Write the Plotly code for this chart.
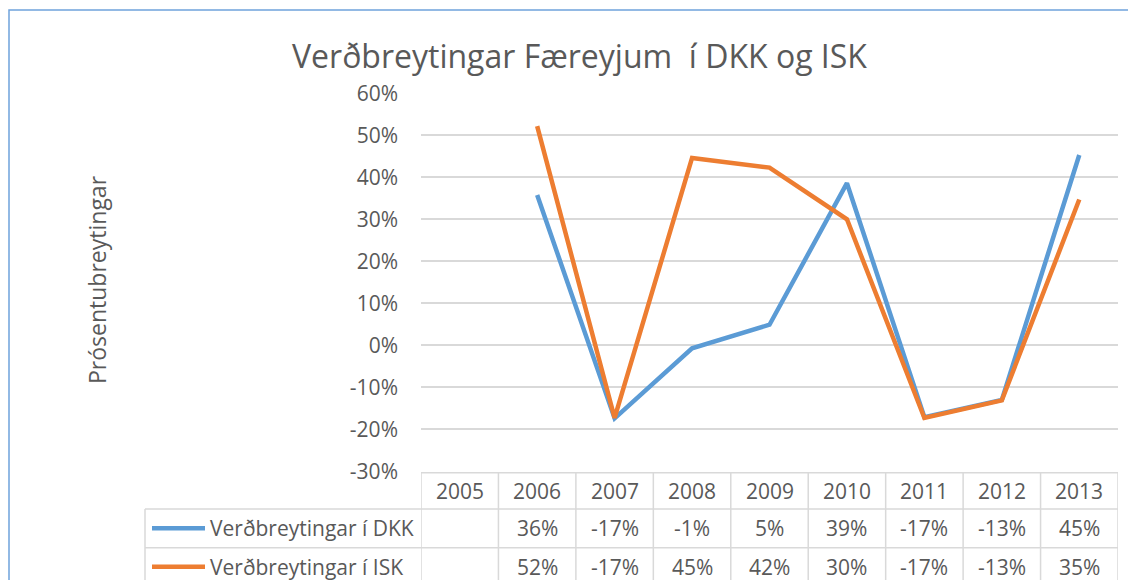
import plotly.graph_objects as go

# ---- data ----
years = ["2005", "2006", "2007", "2008", "2009", "2010", "2011", "2012", "2013"]
dkk = [None, 0.358, -0.174, -0.007, 0.049, 0.386, -0.171, -0.130, 0.453]
isk = [None, 0.522, -0.173, 0.446, 0.423, 0.300, -0.173, -0.131, 0.347]
series_names = ["Verðbreytingar í DKK", "Verðbreytingar í ISK"]
series_colors = ["#5B9BD5", "#ED7D31"]
tick_vals = [-0.3, -0.2, -0.1, 0.0, 0.1, 0.2, 0.3, 0.4, 0.5, 0.6]
tick_text = ["-30%", "-20%", "-10%", "0%", "10%", "20%", "30%", "40%", "50%", "60%"]
title = "Verðbreytingar Færeyjum  í DKK og ISK"
y_title = "Prósentubreytingar"

# ---- layout constants (pixels, reference coords; page body adds 8px offset) ----
W, H = 1136, 580
OFF = 8
FONT = "Open Sans"
TXT = "#595959"
GRID = "#D9D9D9"
px = lambda x: (x - OFF) / W
py = lambda y: 1 - (y - OFF) / H

plot_x0, plot_x1 = 421, 1118
plot_top, plot_bot = 93.3, 471.3
row_edges = [472.7, 509, 547.7, 586]
legend_x0 = 145

fig = go.Figure()
for name, vals, col in zip(series_names, [dkk, isk], series_colors):
    fig.add_trace(go.Scatter(x=years, y=vals, mode="lines", name=name,
                             line=dict(color=col, width=4.5), showlegend=False,
                             connectgaps=False, hoverinfo="skip"))

shapes = []
# chart outer border
shapes.append(dict(type="rect", xref="paper", yref="paper", x0=px(9), x1=px(1160),
                   y0=py(10), y1=py(620), line=dict(color="#6FA3DC", width=1.5),
                   fillcolor="rgba(0,0,0,0)", layer="above"))
# table vertical lines (category boundaries)
for i in range(len(years) + 1):
    shapes.append(dict(type="line", xref="x", yref="paper", x0=i - 0.5, x1=i - 0.5,
                       y0=py(row_edges[0]), y1=py(620), line=dict(color=GRID, width=1.5)))
# legend column left border
shapes.append(dict(type="line", xref="paper", yref="paper", x0=px(legend_x0), x1=px(legend_x0),
                   y0=py(row_edges[1]), y1=py(620), line=dict(color=GRID, width=1.5)))
# header top line
shapes.append(dict(type="line", xref="x", yref="paper", x0=-0.5, x1=len(years) - 0.5,
                   y0=py(row_edges[0]), y1=py(row_edges[0]), line=dict(color=GRID, width=1.5)))
# row lines
for ye in row_edges[1:]:
    shapes.append(dict(type="line", xref="paper", yref="paper", x0=px(legend_x0), x1=px(plot_x1),
                       y0=py(ye), y1=py(ye), line=dict(color=GRID, width=1.5)))

annotations = []
# title
annotations.append(dict(text=title, xref="paper", yref="paper", x=px(579), y=py(55),
                        showarrow=False, font=dict(family=FONT, size=32, color=TXT),
                        xanchor="center", yanchor="middle"))
# y-axis title
annotations.append(dict(text=y_title, xref="paper", yref="paper", x=px(97), y=py(280),
                        showarrow=False, textangle=-90, font=dict(family=FONT, size=23, color=TXT),
                        xanchor="center", yanchor="middle"))
# header row
hc = (row_edges[0] + row_edges[1]) / 2
for i, yr in enumerate(years):
    annotations.append(dict(text=yr, xref="x", yref="paper", x=i, y=py(hc), showarrow=False,
                            font=dict(family=FONT, size=21, color=TXT), xanchor="center", yanchor="middle"))
# data rows
for r, (name, vals, col) in enumerate(zip(series_names, [dkk, isk], series_colors)):
    rc = (row_edges[r + 1] + row_edges[r + 2]) / 2
    shapes.append(dict(type="line", xref="paper", yref="paper", x0=px(152), x1=px(205),
                       y0=py(rc), y1=py(rc), line=dict(color=col, width=4.5)))
    annotations.append(dict(text=name, xref="paper", yref="paper", x=px(208), y=py(rc), showarrow=False,
                            font=dict(family=FONT, size=21, color=TXT), xanchor="left", yanchor="middle"))
    for i, v in enumerate(vals):
        if v is None:
            continue
        annotations.append(dict(text=f"{v * 100:.0f}%", xref="x", yref="paper", x=i, y=py(rc),
                                showarrow=False, font=dict(family=FONT, size=21, color=TXT),
                                xanchor="center", yanchor="middle"))

fig.update_layout(
    width=W, height=H, margin=dict(l=0, r=0, t=0, b=0, autoexpand=False),
    paper_bgcolor="white", plot_bgcolor="white",
    font=dict(family=FONT, color=TXT),
    xaxis=dict(type="category", categoryorder="array", categoryarray=years,
               range=[-0.5, len(years) - 0.5], domain=[px(plot_x0), px(plot_x1)],
               showticklabels=False, showgrid=False, zeroline=False, showline=False, ticks="",
               automargin=False),
    yaxis=dict(range=[-0.3, 0.6], domain=[py(plot_bot), py(plot_top)],
               tickvals=tick_vals, ticktext=tick_text, showgrid=True, gridcolor=GRID, gridwidth=1.5,
               zeroline=False, showline=False, ticks="", ticklabelstandoff=22, automargin=False,
               tickfont=dict(family=FONT, size=21, color=TXT)),
    shapes=shapes, annotations=annotations, showlegend=False,
)

fig.write_html("out.html")
